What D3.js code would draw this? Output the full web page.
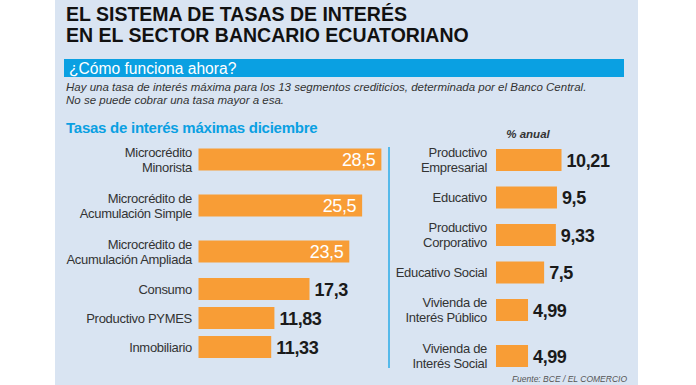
<!DOCTYPE html>
<html>
<head>
<meta charset="utf-8">
<script src="https://cdn.jsdelivr.net/npm/d3@7"></script>
<style>
  body { margin: 0; background: #fff; }
  svg { display: block; font-family: 'Liberation Sans', Arial, sans-serif; }
</style>
</head>
<body>
<svg id="chart" width="696" height="385"></svg>
<script>
// data read from the graphic
const leftCategories = ['Microcrédito\nMinorista', 'Microcrédito de\nAcumulación Simple', 'Microcrédito de\nAcumulación Ampliada', 'Consumo', 'Productivo PYMES', 'Inmobiliario']
const leftValues = [28.5, 25.5, 23.5, 17.3, 11.83, 11.33]
const leftLabels = ['28,5', '25,5', '23,5', '17,3', '11,83', '11,33']

const rightCategories = ['Productivo\nEmpresarial', 'Educativo', 'Productivo\nCorporativo', 'Educativo Social', 'Vivienda de\nInterés Público', 'Vivienda de\nInterés Social']
const rightValues = [10.21, 9.5, 9.33, 7.5, 4.99, 4.99]
const rightLabels = ['10,21', '9,5', '9,33', '7,5', '4,99', '4,99']

const titleLines = ['EL SISTEMA DE TASAS DE INTERÉS', 'EN EL SECTOR BANCARIO ECUATORIANO']
const introLines = [
  'Hay una tasa de interés máxima para los 13 segmentos crediticios, determinada por el Banco Central.',
  'No se puede cobrar una tasa mayor a esa.'
]

const orange = '#f89d36'
const blue = '#0aa0e2'

const svg = d3.select('#chart')

// background panel
svg.append('rect').attr('x', 55).attr('y', 0).attr('width', 583).attr('height', 385).attr('fill', '#d9e4f2')

svg.selectAll('.title')
  .data(titleLines)
  .enter()
  .append('text')
  .attr('x', 66)
  .attr('y', (d, i) => 21 + i * 21)
  .attr('font-size', 19.5)
  .attr('font-weight', 'bold')
  .attr('fill', '#111')
  .text(d => d)

svg.append('rect').attr('x', 64).attr('y', 59).attr('width', 560).attr('height', 18).attr('fill', blue)
svg.append('text').attr('x', 69).attr('y', 73.5).attr('font-size', 15.6).attr('fill', '#fff').text('¿Cómo funciona ahora?')

svg.selectAll('.intro')
  .data(introLines)
  .enter()
  .append('text')
  .attr('x', 66)
  .attr('y', (d, i) => 91 + i * 13)
  .attr('font-size', 11.5)
  .attr('font-style', 'italic')
  .attr('fill', '#333')
  .text(d => d)

svg.append('text').attr('x', 66).attr('y', 133).attr('font-size', 15).attr('font-weight', 'bold')
  .attr('letter-spacing', -0.25).attr('fill', blue).text('Tasas de interés máximas diciembre')

svg.append('text').attr('x', 528).attr('y', 138).attr('font-size', 11.5).attr('font-weight', 'bold')
  .attr('font-style', 'italic').attr('text-anchor', 'middle').attr('fill', '#333').text('% anual')

svg.append('line').attr('x1', 389).attr('x2', 389).attr('y1', 147).attr('y2', 368)
  .attr('stroke', '#55b9ea').attr('stroke-width', 2)

svg.append('text').attr('x', 627).attr('y', 382).attr('font-size', 8.5).attr('font-style', 'italic')
  .attr('text-anchor', 'end').attr('fill', '#555').text('Fuente: BCE / EL COMERCIO')

const x = d3.scaleLinear().domain([0, 30]).range([0, 192.5])

// rows with two-line labels take more room than single-line rows
const rowCenters = (cats, start) => {
  const h = cats.map(c => c.includes('\n') ? 46 : 29)
  const centers = [start]
  for (let i = 1; i < cats.length; i++) centers.push(centers[i - 1] + (h[i - 1] + h[i]) / 2)
  return centers
}

const drawBars = (cats, values, labels, x0, start, labelX) => {
  const cy = rowCenters(cats, start)
  const rows = cats.map((c, i) => ({ cat: c, value: values[i], label: labels[i], cy: cy[i] }))
  const g = svg.append('g')
  const barH = 22

  g.selectAll('rect.bar')
    .data(rows)
    .enter()
    .append('rect')
    .attr('class', 'bar')
    .attr('x', x0)
    .attr('y', d => d.cy - barH / 2)
    .attr('width', d => x(d.value))
    .attr('height', barH)
    .attr('fill', orange)

  const cat = g.selectAll('text.cat')
    .data(rows)
    .enter()
    .append('text')
    .attr('class', 'cat')
    .attr('text-anchor', 'end')
    .attr('font-size', 13)
    .attr('fill', '#333')
    .attr('letter-spacing', -0.3)
  cat.each(function (d) {
    const lines = d.cat.split('\n')
    d3.select(this).selectAll('tspan')
      .data(lines)
      .enter()
      .append('tspan')
      .attr('x', labelX)
      .attr('y', (l, i) => d.cy + 4.5 + (i - (lines.length - 1) / 2) * 15)
      .text(l => l)
  })

  g.selectAll('text.val')
    .data(rows)
    .enter()
    .append('text')
    .attr('class', 'val')
    .attr('x', d => d.value > 20 ? x0 + x(d.value) - 6 : x0 + x(d.value) + 5)
    .attr('y', d => d.cy + 6.5)
    .attr('text-anchor', d => d.value > 20 ? 'end' : 'start')
    .attr('font-size', 18)
    .attr('letter-spacing', -0.4)
    .attr('font-weight', d => d.value > 20 ? 'normal' : 'bold')
    .attr('fill', d => d.value > 20 ? '#fff' : '#1a1a1a')
    .text(d => d.label)
}

drawBars(leftCategories, leftValues, leftLabels, 198.5, 159.5, 192)
drawBars(rightCategories, rightValues, rightLabels, 496, 160, 487)
</script>
</body>
</html>
